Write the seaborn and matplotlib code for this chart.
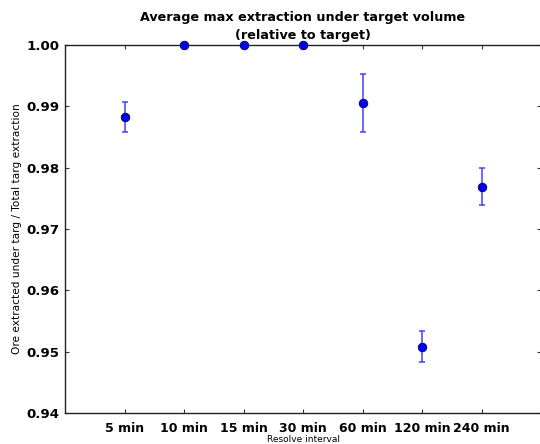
import matplotlib
matplotlib.use("Agg")
import matplotlib.pyplot as plt
import seaborn as sns
import pandas as pd

categories = ["5 min", "10 min", "15 min", "30 min", "60 min", "120 min", "240 min"]
means = [0.9883, 1.0000, 1.0000, 1.0000, 0.9905, 0.9508, 0.9769]
errors = [0.00245, 0.0, 0.0, 0.0, 0.00476, 0.0025, 0.0030]
yticks = [0.94, 0.95, 0.96, 0.97, 0.98, 0.99, 1.00]

title = "Average max extraction under target volume\n(relative to target)"
xlabel = "Resolve interval"
ylabel = "Ore extracted under targ / Total targ extraction"

sns.set_style("white")
plt.rcParams["font.family"] = ["DejaVu Sans"]
plt.rcParams["text.color"] = "black"
plt.rcParams["axes.labelcolor"] = "black"
plt.rcParams["xtick.color"] = "black"
plt.rcParams["ytick.color"] = "black"

df = pd.DataFrame({"interval": categories, "value": means, "err": errors})

fig = plt.figure(figsize=(5.40, 4.44), dpi=100)
ax = fig.add_axes([65 / 540, 1 - 413 / 444, 476 / 540, 368 / 444])

ax.errorbar(x=list(range(len(categories))), y=df["value"], yerr=df["err"],
            fmt="none", ecolor=(0.25, 0.25, 1.0), elinewidth=1.1,
            capsize=2.5, capthick=1.1, zorder=2)
sns.scatterplot(data=df, x="interval", y="value", ax=ax, color=(0, 0, 0.95),
                edgecolor=(0, 0, 0.3), linewidth=0.6, s=38, zorder=3, clip_on=False)

ax.set_xlim(-1, 7)
ax.set_ylim(0.94, 1.00)
ax.set_yticks(yticks)
ax.set_yticklabels([f"{v:.2f}" for v in yticks], fontsize=9.6, fontweight="bold")
ax.set_xticks(range(len(categories)))
ax.set_xticklabels(categories, fontsize=9.0, fontweight="bold")

ax.tick_params(direction="in", length=3, width=0.8, color="#333333",
               top=True, right=True, bottom=True, left=True)
ax.tick_params(axis="x", pad=6.5)
ax.tick_params(axis="y", pad=4)

for sp in ax.spines.values():
    sp.set_visible(True)
    sp.set_color("#222222")
    sp.set_linewidth(1.0)

ax.set_title(title, fontsize=9.2, fontweight="bold", pad=4.5, color="black",
             linespacing=1.45)
ax.set_xlabel(xlabel, fontsize=6.5, labelpad=0)
ax.set_ylabel(ylabel, fontsize=7.6, labelpad=3)

fig.savefig("out.png", dpi=100)
